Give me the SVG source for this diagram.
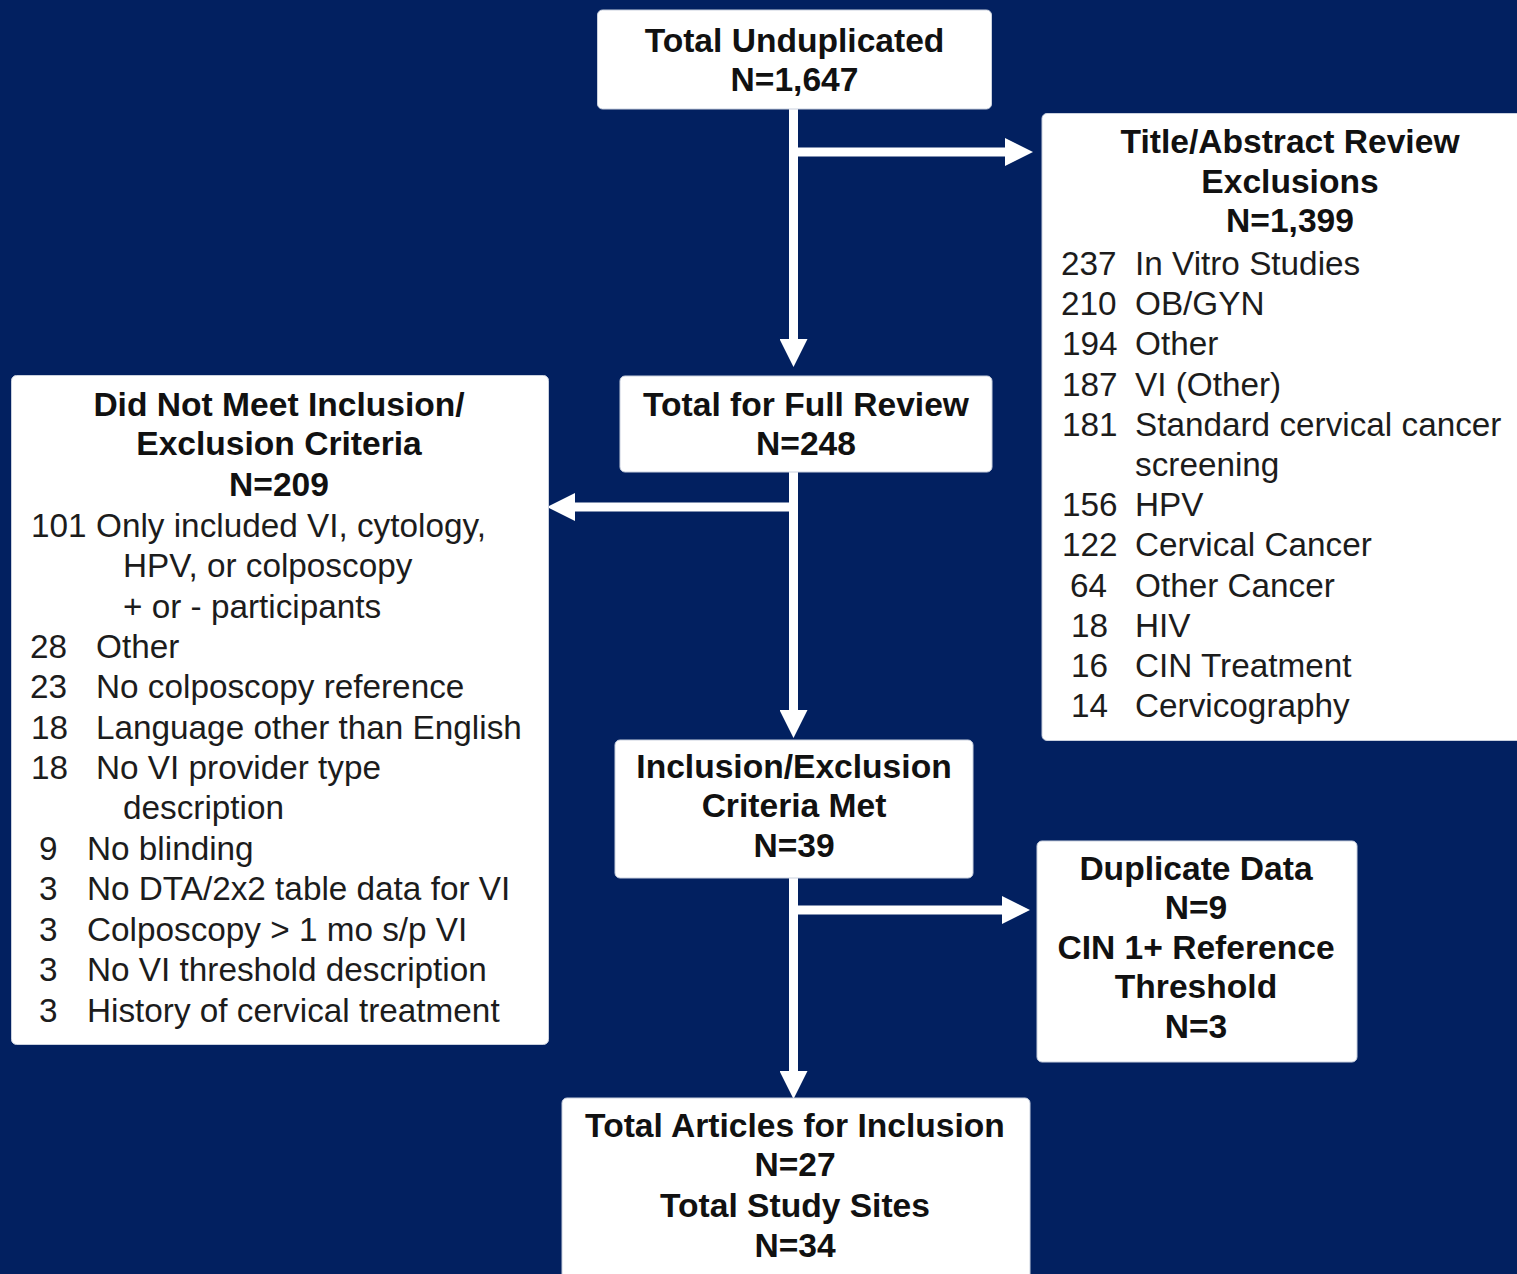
<svg xmlns="http://www.w3.org/2000/svg" width="1517" height="1274" viewBox="0 0 1517 1274">
<style>
.box{fill:#ffffff;stroke:#c9d0de;stroke-width:1}
.h{font-family:"Liberation Sans",Arial,sans-serif;font-size:33.6px;font-weight:bold;fill:#111111;text-anchor:middle}
.t{font-family:"Liberation Sans",Arial,sans-serif;font-size:33.3px;fill:#1c1c1c}
.c{fill:none;stroke:#ffffff;stroke-width:9}
</style>
<defs>
<marker id="ah" markerUnits="userSpaceOnUse" markerWidth="28" markerHeight="28" refX="0" refY="14" orient="auto" viewBox="0 0 28 28">
<path d="M0,0 L28,14 L0,28 Z" fill="#ffffff"/>
</marker>
</defs>
<rect x="0" y="0" width="1517" height="1274" fill="#022060"/>

<g id="connectors">
<path class="c" d="M793.5,108 V339" marker-end="url(#ah)"/>
<path class="c" d="M793.5,152 H1005" marker-end="url(#ah)"/>
<path class="c" d="M793.5,472 V710" marker-end="url(#ah)"/>
<path class="c" d="M793.5,507 H575" marker-end="url(#ah)"/>
<path class="c" d="M793.5,878 V1071" marker-end="url(#ah)"/>
<path class="c" d="M793.5,910 H1002" marker-end="url(#ah)"/>
</g>

<g id="total-unduplicated">
<rect class="box" x="597.5" y="10" width="394" height="99" rx="5"/>
<text class="h" x="794.5" y="52">Total Unduplicated</text>
<text class="h" x="794.5" y="91">N=1,647</text>
</g>

<g id="title-abstract-exclusions">
<rect class="box" x="1042" y="113.5" width="490" height="627" rx="5"/>
<text class="h" x="1290" y="153">Title/Abstract Review</text>
<text class="h" x="1290" y="193">Exclusions</text>
<text class="h" x="1290" y="232">N=1,399</text>
<text class="t" x="1061" y="275">237</text><text class="t" x="1135" y="275">In Vitro Studies</text>
<text class="t" x="1061" y="315">210</text><text class="t" x="1135" y="315">OB/GYN</text>
<text class="t" x="1062" y="355">194</text><text class="t" x="1135" y="355">Other</text>
<text class="t" x="1062" y="396">187</text><text class="t" x="1135" y="396">VI (Other)</text>
<text class="t" x="1062" y="436">181</text><text class="t" x="1135" y="436">Standard cervical cancer</text>
<text class="t" x="1135" y="476">screening</text>
<text class="t" x="1062" y="516">156</text><text class="t" x="1135" y="516">HPV</text>
<text class="t" x="1062" y="556">122</text><text class="t" x="1135" y="556">Cervical Cancer</text>
<text class="t" x="1070" y="597">64</text><text class="t" x="1135" y="597">Other Cancer</text>
<text class="t" x="1071" y="637">18</text><text class="t" x="1135" y="637">HIV</text>
<text class="t" x="1071" y="677">16</text><text class="t" x="1135" y="677">CIN Treatment</text>
<text class="t" x="1071" y="717">14</text><text class="t" x="1135" y="717">Cervicography</text>
</g>

<g id="full-review">
<rect class="box" x="620" y="376" width="372" height="96" rx="5"/>
<text class="h" x="806" y="416">Total for Full Review</text>
<text class="h" x="806" y="455">N=248</text>
</g>

<g id="did-not-meet">
<rect class="box" x="11.5" y="375.5" width="537" height="669" rx="5"/>
<text class="h" x="279" y="416">Did Not Meet Inclusion/</text>
<text class="h" x="279" y="455">Exclusion Criteria</text>
<text class="h" x="279" y="496">N=209</text>
<text class="t" x="31" y="537">101</text><text class="t" x="96" y="537">Only included VI, cytology,</text>
<text class="t" x="123" y="577">HPV, or colposcopy</text>
<text class="t" x="123" y="618">+ or - participants</text>
<text class="t" x="30" y="658">28</text><text class="t" x="96" y="658">Other</text>
<text class="t" x="30" y="698">23</text><text class="t" x="96" y="698">No colposcopy reference</text>
<text class="t" x="31" y="739">18</text><text class="t" x="96" y="739">Language other than English</text>
<text class="t" x="31" y="779">18</text><text class="t" x="96" y="779">No VI provider type</text>
<text class="t" x="123" y="819">description</text>
<text class="t" x="39" y="860">9</text><text class="t" x="87" y="860">No blinding</text>
<text class="t" x="39" y="900">3</text><text class="t" x="87" y="900">No DTA/2x2 table data for VI</text>
<text class="t" x="39" y="941">3</text><text class="t" x="87" y="941">Colposcopy &gt; 1 mo s/p VI</text>
<text class="t" x="39" y="981">3</text><text class="t" x="87" y="981">No VI threshold description</text>
<text class="t" x="39" y="1022">3</text><text class="t" x="87" y="1022">History of cervical treatment</text>
</g>

<g id="criteria-met">
<rect class="box" x="615" y="740" width="358" height="138" rx="5"/>
<text class="h" x="794" y="778">Inclusion/Exclusion</text>
<text class="h" x="794" y="817">Criteria Met</text>
<text class="h" x="794" y="857">N=39</text>
</g>

<g id="duplicate-data">
<rect class="box" x="1037" y="841" width="320" height="221" rx="5"/>
<text class="h" x="1196" y="880">Duplicate Data</text>
<text class="h" x="1196" y="919">N=9</text>
<text class="h" x="1196" y="959">CIN 1+ Reference</text>
<text class="h" x="1196" y="998">Threshold</text>
<text class="h" x="1196" y="1038">N=3</text>
</g>

<g id="total-inclusion">
<rect class="box" x="562" y="1098" width="468" height="190" rx="5"/>
<text class="h" x="795" y="1137">Total Articles for Inclusion</text>
<text class="h" x="795" y="1176">N=27</text>
<text class="h" x="795" y="1217">Total Study Sites</text>
<text class="h" x="795" y="1257">N=34</text>
</g>
</svg>
